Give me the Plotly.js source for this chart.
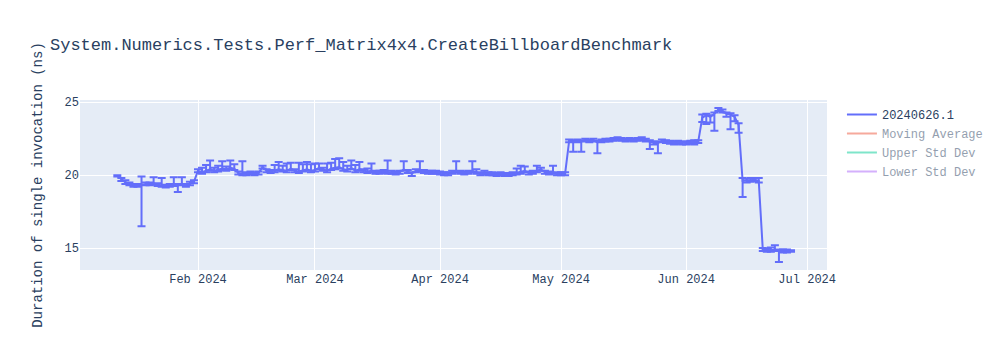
<!DOCTYPE html>
<html>
<head>
<meta charset="utf-8">
<script src="https://cdn.plot.ly/plotly-3.0.1.min.js"></script>
<style>html,body{margin:0;padding:0;}#chart{width:1000px;height:350px;}</style>
</head>
<body>
<div id="chart"></div>
<script>
// dates (one run per day)
const janDays = [12,13,14,15,16,17,18,19,20,21,22,23,24,25,26,27,28,29,30,31];
const janVals = [19.95,19.7,19.5,19.4,19.3,19.3,19.35,19.4,19.4,19.45,19.35,19.3,19.25,19.3,19.35,19.3,19.4,19.3,19.4,19.55];
const janPlus = [0.05,0.1,0.15,0.1,0.1,0.1,0.55,0.1,0.1,0.4,0.1,0.5,0.1,0.1,0.5,0.1,0.45,0.1,0.15,0.1];
const janMinus = [0.05,0.1,0.1,0.1,0.1,0.1,2.85,0.1,0.1,0.1,0.1,0.1,0.1,0.1,0.1,0.45,0.1,0.1,0.1,0.1];

const febVals = [20.3,20.2,20.3,20.4,20.3,20.35,20.45,20.4,20.5,20.45,20.15,20.1,20.1,20.15,20.1,20.15,20.55,20.3,20.25,20.3,20.4,20.35,20.3,20.45,20.3,20.25,20.35,20.4,20.3];
const febPlus = [0.1,0.3,0.4,0.6,0.2,0.3,0.5,0.2,0.5,0.3,0.1,0.85,0.1,0.1,0.1,0.1,0.1,0.1,0.1,0.4,0.5,0.3,0.5,0.4,0.1,0.6,0.4,0.5,0.45];
const febMinus = [0.1,0.1,0.1,0.1,0.1,0.1,0.1,0.1,0.1,0.1,0.1,0.1,0.1,0.1,0.1,0.1,0.1,0.1,0.1,0.1,0.1,0.1,0.1,0.1,0.1,0.1,0.1,0.1,0.1];

const marVals = [20.35,20.5,20.4,20.3,20.45,20.5,20.55,20.4,20.35,20.5,20.3,20.4,20.3,20.25,20.3,20.2,20.2,20.25,20.2,20.2,20.15,20.2,20.4,20.25,20.1,20.3,20.35,20.25,20.2,20.2,20.2];
const marPlus = [0.45,0.3,0.1,0.5,0.4,0.6,0.6,0.5,0.3,0.5,0.4,0.5,0.1,0.2,0.5,0.1,0.1,0.1,0.8,0.1,0.1,0.1,0.55,0.1,0.1,0.1,0.6,0.1,0.1,0.1,0.1];
const marMinus = [0.1,0.1,0.1,0.1,0.1,0.1,0.1,0.1,0.1,0.1,0.1,0.1,0.1,0.1,0.1,0.1,0.1,0.1,0.1,0.1,0.1,0.1,0.1,0.1,0.15,0.1,0.1,0.1,0.1,0.1,0.1];

const aprVals = [20.15,20.1,20.1,20.2,20.3,20.2,20.15,20.2,20.3,20.2,20.1,20.15,20.1,20.1,20.05,20.1,20.05,20.05,20.1,20.15,20.2,20.3,20.15,20.2,20.3,20.4,20.2,20.15,20.2,20.1];
const aprPlus = [0.1,0.1,0.1,0.1,0.65,0.1,0.1,0.1,0.65,0.2,0.1,0.15,0.1,0.1,0.1,0.1,0.1,0.1,0.1,0.3,0.45,0.3,0.1,0.1,0.35,0.1,0.1,0.1,0.45,0.1];
const aprMinus = [0.1,0.1,0.1,0.1,0.1,0.1,0.1,0.1,0.1,0.1,0.1,0.1,0.1,0.1,0.1,0.1,0.1,0.1,0.1,0.1,0.1,0.1,0.1,0.1,0.1,0.1,0.1,0.1,0.1,0.1];

const mayVals = [20.1,20.1,22.35,22.3,22.35,22.3,22.4,22.35,22.4,22.25,22.35,22.4,22.4,22.45,22.5,22.45,22.4,22.45,22.4,22.45,22.5,22.4,22.3,22.2,22.2,22.35,22.3,22.25,22.2,22.25,22.2];
const mayPlus = [0.1,0.1,0.1,0.1,0.1,0.1,0.1,0.1,0.1,0.1,0.1,0.1,0.1,0.1,0.1,0.1,0.1,0.1,0.1,0.1,0.1,0.1,0.1,0.1,0.1,0.1,0.1,0.1,0.1,0.1,0.1];
const mayMinus = [0.1,0.1,0.1,0.7,0.1,0.7,0.1,0.1,0.1,0.75,0.1,0.1,0.1,0.1,0.1,0.1,0.1,0.1,0.1,0.1,0.1,0.1,0.5,0.1,0.7,0.1,0.1,0.1,0.1,0.1,0.1];

const junDays = [1,2,3,4,5,6,7,8,9,10,11,12,13,14,15,16,17,18,19,20,21,22,23,24,25,26,27];
const junVals = [22.2,22.25,22.3,22.3,23.95,24.1,24.0,24.2,24.5,24.4,24.2,24.15,24.0,23.45,19.6,19.6,19.65,19.7,19.6,14.9,14.85,14.85,14.9,14.8,14.8,14.8,14.8];
const junPlus = [0.1,0.1,0.1,0.1,0.2,0.1,0.1,0.1,0.1,0.1,0.1,0.1,0.1,0.1,0.2,0.15,0.15,0.1,0.2,0.1,0.1,0.2,0.3,0.1,0.1,0.1,0.05];
const junMinus = [0.1,0.1,0.2,0.1,0.3,0.6,0.4,1.15,0.1,0.1,0.2,1.0,0.3,0.55,1.1,0.1,0.1,0.1,0.1,0.1,0.1,0.1,0.1,0.75,0.1,0.1,0.05];

const seriesName = "20240626.1";
const legendNames = ["Moving Average", "Upper Std Dev", "Lower Std Dev"];

function pad(n){ return (n < 10 ? "0" : "") + n; }
function monthDates(m, days){ return days.map(d => "2024-" + pad(m) + "-" + pad(d)); }
function range1(n){ const a=[]; for(let i=1;i<=n;i++) a.push(i); return a; }

const dates = [].concat(
  monthDates(1, janDays),
  monthDates(2, range1(febVals.length)),
  monthDates(3, range1(marVals.length)),
  monthDates(4, range1(aprVals.length)),
  monthDates(5, range1(mayVals.length)),
  monthDates(6, junDays)
);
const values = [].concat(janVals, febVals, marVals, aprVals, mayVals, junVals);
const errPlus = [].concat(janPlus, febPlus, marPlus, aprPlus, mayPlus, junPlus);
const errMinus = [].concat(janMinus, febMinus, marMinus, aprMinus, mayMinus, junMinus);

const traces = [{
  type: "scatter", mode: "lines", name: seriesName,
  x: dates, y: values,
  line: {color: "#636efa", width: 2},
  error_y: {type: "data", symmetric: false, array: errPlus, arrayminus: errMinus,
            color: "#636efa", thickness: 2, width: 4, visible: true}
}];
const extraColors = ["#EF553B", "#00cc96", "#ab63fa"];
// hidden (legend-only) companion traces; their lines are never drawn
legendNames.forEach((n, i) => traces.push({
  type: "scatter", mode: "lines", name: n, x: dates, y: values,
  visible: "legendonly", line: {color: extraColors[i], width: 2}
}));

const layout = {
  width: 1000, height: 350,
  font: {family: "Liberation Mono, Courier New, monospace", size: 12, color: "#2a3f5f"},
  title: {text: "System.Numerics.Tests.Perf_Matrix4x4.CreateBillboardBenchmark", font: {size: 17}, x: 0.05, xanchor: "left"},
  paper_bgcolor: "#ffffff", plot_bgcolor: "#E5ECF6",
  margin: {l: 80, r: 80, t: 100, b: 80},
  xaxis: {type: "date", range: ["2024-01-02 18:00", "2024-07-05 22:00"],
          gridcolor: "#ffffff", zeroline: false, showline: false},
  yaxis: {title: {text: "Duration of single invocation (ns)"}, range: [13.5, 25.15],
          gridcolor: "#ffffff", zeroline: false, tickvals: [15, 20, 25]},
  showlegend: true
};
Plotly.newPlot("chart", traces, layout, {displayModeBar: false});
</script>
</body>
</html>
